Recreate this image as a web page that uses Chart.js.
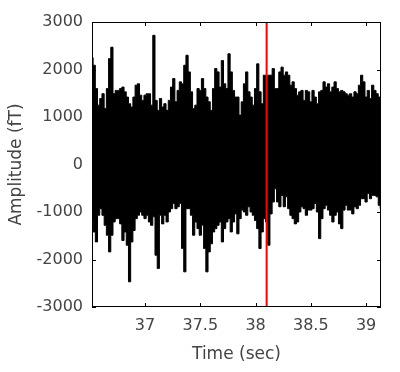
<!DOCTYPE html>
<html>
<head>
<meta charset="utf-8">
<script src="https://cdn.jsdelivr.net/npm/chart.js@4/dist/chart.umd.min.js"></script>
<style>
  html, body { margin: 0; padding: 0; background: #fff; }
</style>
</head>
<body>
<canvas id="meg" width="400" height="372"></canvas>
<script>
// time (sec) of each envelope sample
const times = [
  36.52, 36.54, 36.56, 36.58, 36.60, 36.62, 36.64, 36.66, 36.68, 36.70,
  36.72, 36.74, 36.76, 36.78, 36.80, 36.82, 36.84, 36.86, 36.88, 36.90,
  36.92, 36.94, 36.96, 36.98, 37.00, 37.02, 37.04, 37.06, 37.08, 37.10,
  37.12, 37.14, 37.16, 37.18, 37.20, 37.22, 37.24, 37.26, 37.28, 37.30,
  37.32, 37.34, 37.36, 37.38, 37.40, 37.42, 37.44, 37.46, 37.48, 37.50,
  37.52, 37.54, 37.56, 37.58, 37.60, 37.62, 37.64, 37.66, 37.68, 37.70,
  37.72, 37.74, 37.76, 37.78, 37.80, 37.82, 37.84, 37.86, 37.88, 37.90,
  37.92, 37.94, 37.96, 37.98, 38.00, 38.02, 38.04, 38.06, 38.08, 38.10,
  38.12, 38.14, 38.16, 38.18, 38.20, 38.22, 38.24, 38.26, 38.28, 38.30,
  38.32, 38.34, 38.36, 38.38, 38.40, 38.42, 38.44, 38.46, 38.48, 38.50,
  38.52, 38.54, 38.56, 38.58, 38.60, 38.62, 38.64, 38.66, 38.68, 38.70,
  38.72, 38.74, 38.76, 38.78, 38.80, 38.82, 38.84, 38.86, 38.88, 38.90,
  38.92, 38.94, 38.96, 38.98, 39.00, 39.02, 39.04, 39.06, 39.08, 39.10,
  39.12, 39.135
];

// upper edge of the signal (fT)
const upperEnv = [
  2250, 2090, 1600, 1250, 1390, 1490, 1180, 1600, 2230, 2470,
  1490, 1560, 1560, 1600, 1630, 1530, 1420, 1280, 1210, 1420,
  1670, 1700, 1460, 1350, 1460, 1490, 1490, 1250, 2720, 1350,
  1140, 1390, 1210, 1280, 1140, 1350, 1630, 1810, 1320, 1560,
  1740, 1700, 2090, 2300, 1950, 1530, 1180, 1250, 1600, 1560,
  1810, 1600, 1420, 1320, 1140, 1600, 2020, 1950, 1630, 2190,
  1700, 1600, 2330, 1950, 1560, 1420, 1420, 1040, 1320, 1700,
  1950, 1530, 1420, 1250, 1600, 2120, 1530, 1280, 1880, 1810,
  1880, 1880, 2020, 1600, 1600, 1950, 2050, 1880, 1950, 1880,
  1670, 1740, 1600, 1460, 1530, 1560, 1350, 1560, 1530, 1320,
  1560, 1420, 1280, 1530, 1560, 1740, 1630, 1700, 1530, 1630,
  1740, 1600, 1530, 1560, 1530, 1490, 1460, 1490, 1420, 1530,
  1490, 1670, 1880, 1740, 1420, 1560, 1390, 1670, 1560, 1490,
  1420, 1180
];

// lower edge of the signal (fT)
const lowerEnv = [
  -1140, -1420, -1630, -1070, -930, -1070, -1280, -1490, -1840, -1490,
  -1210, -1140, -1140, -1250, -1600, -1420, -1700, -2470, -1630, -1390,
  -1140, -1070, -1000, -1070, -1140, -1070, -1210, -1280, -1100, -1910,
  -2190, -1070, -1250, -1070, -1210, -1000, -930, -820, -930, -890,
  -820, -1770, -2260, -930, -930, -1070, -1490, -1210, -1350, -1490,
  -1280, -1770, -2260, -1840, -1670, -1420, -1350, -1280, -1210, -1630,
  -1350, -1210, -1140, -1420, -1210, -1040, -1460, -1140, -960, -1000,
  -1070, -890, -1000, -1070, -1180, -1350, -1770, -1420, -1140, -1210,
  -1700, -1040, -790, -510, -790, -890, -650, -890, -680, -930,
  -1070, -1140, -1250, -1210, -1000, -890, -930, -1070, -960, -960,
  -930, -820, -1000, -1560, -1140, -930, -860, -960, -1070, -1210,
  -1070, -1000, -1250, -1350, -960, -860, -960, -960, -1040, -890,
  -930, -860, -720, -720, -790, -610, -720, -650, -650, -680,
  -860, -930
];

const markerTime = 38.1;
const xTicks = [37, 37.5, 38, 38.5, 39];
const yTicks = [-3000, -2000, -1000, 0, 1000, 2000, 3000];

const tickFont = { family: "DejaVu Sans", size: 16 };
const titleFont = { family: "DejaVu Sans", size: 17 };
const textColor = "#444";

// MATLAB style box with inward ticks on all four sides
const boxFrame = {
  id: "boxFrame",
  afterDatasetsDraw(chart) {
    const { ctx, chartArea: a, scales } = chart;
    ctx.save();
    ctx.strokeStyle = "#000";
    ctx.lineWidth = 1;
    ctx.beginPath();
    xTicks.forEach((v) => {
      const x = Math.round(scales.x.getPixelForValue(v)) + 0.5;
      ctx.moveTo(x, a.bottom); ctx.lineTo(x, a.bottom - 4);
      ctx.moveTo(x, a.top); ctx.lineTo(x, a.top + 4);
    });
    yTicks.forEach((v) => {
      const y = Math.round(scales.y.getPixelForValue(v)) + 0.5;
      ctx.moveTo(a.left, y); ctx.lineTo(a.left + 4, y);
      ctx.moveTo(a.right, y); ctx.lineTo(a.right - 4, y);
    });
    ctx.stroke();
    ctx.strokeRect(Math.round(a.left) + 0.5, Math.round(a.top) + 0.5,
      Math.round(a.right - a.left) - 1, Math.round(a.bottom - a.top) - 1);
    ctx.restore();
  },
};

const toPoints = (ys) => times.map((t, i) => ({ x: t, y: ys[i] }));

new Chart(document.getElementById("meg"), {
  type: "line",
  data: {
    datasets: [
      {
        data: toPoints(upperEnv),
        borderColor: "#000",
        backgroundColor: "#000",
        borderWidth: 1,
        pointRadius: 0,
        stepped: "middle",
        fill: "+1",
        order: 2,
      },
      {
        data: toPoints(lowerEnv),
        borderColor: "#000",
        borderWidth: 1,
        pointRadius: 0,
        stepped: "middle",
        fill: false,
        order: 1,
      },
      {
        data: [
          { x: markerTime, y: yTicks[0] },
          { x: markerTime, y: yTicks[yTicks.length - 1] },
        ],
        borderColor: "#ff0000",
        borderWidth: 2,
        pointRadius: 0,
        fill: false,
        order: 0,
      },
    ],
  },
  options: {
    responsive: false,
    animation: false,
    layout: { padding: { top: 22, right: 19, left: 0, bottom: 0 } },
    plugins: {
      legend: { display: false },
      tooltip: { enabled: false },
    },
    scales: {
      x: {
        type: "linear",
        min: 36.52,
        max: 39.135,
        afterBuildTicks: (s) => { s.ticks = xTicks.map((v) => ({ value: v })); },
        afterFit: (s) => { s.height = 65; },
        grid: { display: false, drawTicks: false },
        border: { display: false },
        ticks: {
          font: tickFont,
          color: textColor,
          padding: 9,
          maxRotation: 0,
          autoSkip: false,
          callback: (v) => String(v),
        },
        title: {
          display: true,
          text: "Time (sec)",
          font: titleFont,
          color: textColor,
          padding: { top: 0, bottom: 7 },
        },
      },
      y: {
        min: -3000,
        max: 3000,
        afterBuildTicks: (s) => { s.ticks = yTicks.map((v) => ({ value: v })); },
        afterFit: (s) => { s.width = 92; },
        grid: { display: false, drawTicks: false },
        border: { display: false },
        ticks: {
          font: tickFont,
          color: textColor,
          padding: 9,
          callback: (v) => String(v),
        },
        title: {
          display: true,
          text: "Amplitude (fT)",
          font: titleFont,
          color: textColor,
          padding: { top: 6, bottom: 0 },
        },
      },
    },
  },
  plugins: [boxFrame],
});
</script>
</body>
</html>
